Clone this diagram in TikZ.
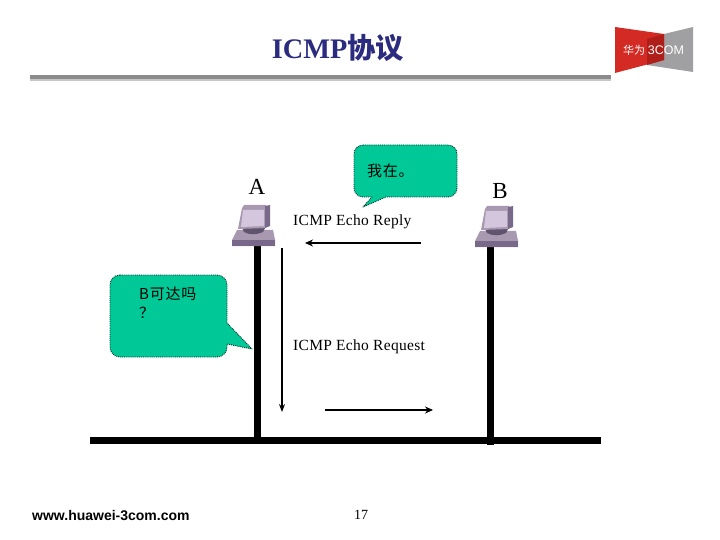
\documentclass[tikz,border=0pt]{standalone}
\usepackage{fontspec}
\setmainfont{Liberation Serif}
\setsansfont{Liberation Sans}
\newfontfamily\cjk{Noto Sans CJK SC}
\newfontfamily\cjkwide[LetterSpace=5]{Noto Sans CJK SC}
\newfontfamily\serifwide[LetterSpace=2]{Liberation Serif}
\usetikzlibrary{arrows.meta}
\definecolor{titleblue}{HTML}{2B2B80}
\definecolor{bubblegreen}{HTML}{00C896}
\definecolor{ruleg}{HTML}{8C8C8C}
\definecolor{logored}{HTML}{D42A24}
\definecolor{logodark}{HTML}{B01E1A}
\definecolor{logogray}{HTML}{A0A0A2}
\definecolor{HostL}{HTML}{D4C6DC}
\definecolor{HostB}{HTML}{A898B0}
\definecolor{HostD}{HTML}{78688A}
\tikzset{
  bubble/.style={fill=bubblegreen,draw=black!75!bubblegreen,line width=0.9pt,densely dotted,line join=round},
  lan/.style={line width=7pt,black},
  flow/.style={line width=2pt,-{Stealth[length=8pt,width=7pt]}},
  flowthin/.style={line width=1.2pt,-{Stealth[length=8pt,width=6pt]}},
  lbl/.style={inner sep=0pt,font=\serifwide\fontsize{15.5}{17}\selectfont},
  host/.pic={
    % base
    \fill[fill=HostB] (-25,24) -- (-20,14) -- (16,14) -- (18,24) -- (18,30) -- (-25,30) -- cycle;
    \fill[fill=HostD] (-25,24) -- (18,24) -- (18,30) -- (-25,30) -- cycle;
    % stand
    \fill[fill=HostD!80!black] (-15,12) -- (8,12) -- (6,16) .. controls (0,19) and (-8,19) .. (-13,16) -- cycle;
    % monitor
    \fill[fill=HostB] (-15,-8) -- (-13,-11) -- (9,-11) -- (9,12) -- (-19,13) -- cycle;
    \fill[fill=HostL] (-14,-6) -- (7,-6) -- (7,10) -- (-16,11) -- cycle;
    \fill[fill=HostD] (8,-10) -- (13,-11) -- (13,10) -- (8,12) -- cycle;
  }
}
\begin{document}
\begin{tikzpicture}[x=1pt,y=-1pt]
\useasboundingbox[fill=white] (0,0) rectangle (720,540);

% title and rule
\node[inner sep=0pt,text=titleblue,font=\fontsize{28.3}{30}\selectfont\bfseries] (title) at (338,48) {ICMP{\cjk 协议}};
\fill[ruleg!50] (30,78) rectangle (611,81);
\fill[ruleg] (30,75.5) rectangle (611,79);

% logo
\fill[logogray] (664,34) -- (693,27) -- (693,72) -- (647,65) -- (647,39) -- cycle;
\fill[logored] (615,27) -- (664,34) -- (664,60) -- (615,73) -- cycle;
\fill[logodark] (647,39) -- (664,34) -- (664,60) -- (647,65) -- cycle;
\node[inner sep=0pt,text=white,font=\cjk\fontsize{11}{12}\selectfont] (logoa) at (634,50) {华为};
\node[inner sep=0pt,text=white,font=\sffamily\fontsize{12.5}{14}\selectfont] (logob) at (666,50) {3COM};

% network
\coordinate (busl) at (90,440.5);
\coordinate (busr) at (601,440.5);
\coordinate (atop) at (257,245);
\coordinate (abot) at (257,440);
\coordinate (btop) at (490.5,246);
\coordinate (bbot) at (490.5,445);
\draw[lan] (atop) -- (abot);
\draw[lan] (btop) -- (bbot);
\draw[lan] (busl) -- (busr);

% hosts
\pic at (257,216) {host};
\pic at (500,217) {host};
\node[inner sep=0pt,font=\fontsize{23}{24}\selectfont] (A) at (257,187) {A};
\node[inner sep=0pt,font=\fontsize{23}{24}\selectfont] (B) at (500,191.5) {B};

% bubbles
\draw[bubble] (363,145) -- (448,145) arc[start angle=-90,end angle=0,radius=9]
  -- (457,188) arc[start angle=0,end angle=90,radius=9]
  -- (386,197) -- (363,207) -- (372,197) -- (363,197)
  arc[start angle=90,end angle=180,radius=9] -- (354,154)
  arc[start angle=180,end angle=270,radius=9] -- cycle;
\node[inner sep=0pt,anchor=west,font=\cjkwide\fontsize{15}{17}\selectfont] (here) at (367,171) {我在。};

\draw[bubble] (120,275) -- (217,275) arc[start angle=-90,end angle=0,radius=10]
  -- (227,323) -- (252,349) -- (227,344) -- (227,347)
  arc[start angle=0,end angle=90,radius=10] -- (120,357)
  arc[start angle=90,end angle=180,radius=10] -- (110,285)
  arc[start angle=180,end angle=270,radius=10] -- cycle;
\node[inner sep=0pt,anchor=west,font=\cjkwide\fontsize{15}{17}\selectfont] (ask1) at (139,294) {B可达吗};
\node[inner sep=0pt,anchor=west,font=\cjkwide\fontsize{15}{17}\selectfont] (ask2) at (139,313) {？};

% messages
\node[lbl,anchor=west] (rep) at (293,222) {ICMP Echo Reply};
\node[lbl,anchor=west] (req) at (293,347) {ICMP Echo Request};
\coordinate (r1) at (421,243);
\coordinate (r2) at (305,243);
\draw[flow] (r1) -- (r2);
\coordinate (q1) at (325,410);
\coordinate (q2) at (433,410);
\draw[flow] (q1) -- (q2);
\coordinate (v1) at (282,248);
\coordinate (v2) at (282,412);
\draw[flowthin] (v1) -- (v2);

% footer
\node[inner sep=0pt,anchor=west,font=\sffamily\bfseries\fontsize{14}{15}\selectfont] (url) at (32,516) {www.huawei-3com.com};
\node[inner sep=0pt,font=\fontsize{14}{16}\selectfont] (page) at (361,515) {17};
\end{tikzpicture}
\end{document}
